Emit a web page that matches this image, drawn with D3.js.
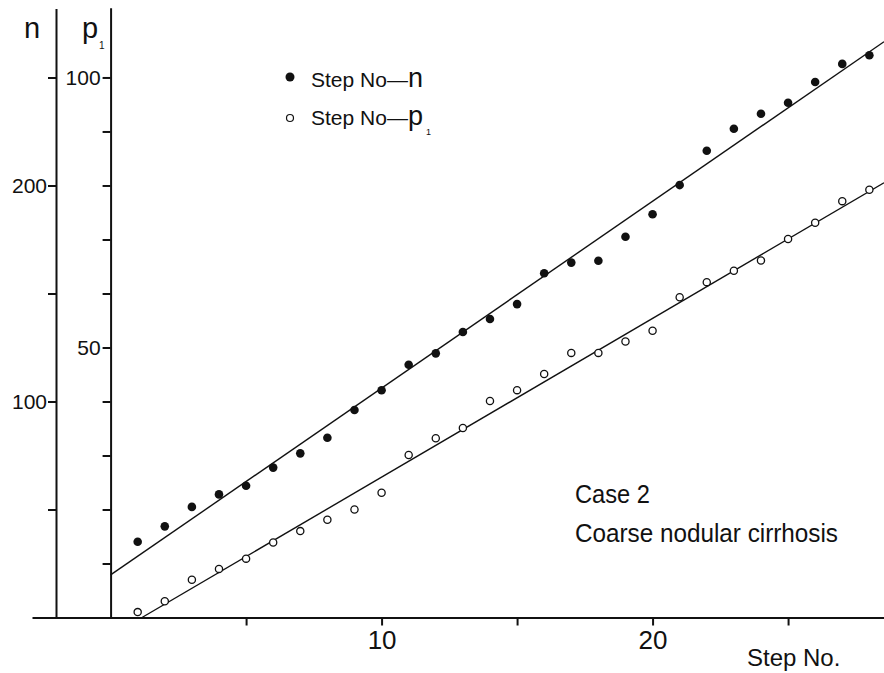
<!DOCTYPE html>
<html>
<head>
<meta charset="utf-8">
<script src="https://cdn.jsdelivr.net/npm/d3@7"></script>
<style>
  body { margin: 0; background: #fff; }
  svg text { font-family: "Liberation Sans", Arial, sans-serif; fill: #111; }
</style>
</head>
<body>
<div id="container"></div>
<script>
/* DATA */
const steps = [1, 2, 3, 4, 5, 6, 7, 8, 9, 10, 11, 12, 13, 14, 15, 16, 17, 18, 19, 20, 21, 22, 23, 24, 25, 26, 27, 28];
// Step No -- n (filled dots)
const nValues = [35.1, 42.2, 51.2, 57.0, 61.0, 69.4, 76.0, 83.2, 96.1, 105.2, 117.0, 122.3, 132.2, 138.2,
  145.1, 159.4, 164.3, 165.2, 176.3, 186.7, 200.2, 216.1, 226.3, 233.2, 238.3, 247.9, 256.3, 260.3];
// Step No -- p1 (open circles)
const pValues = [1.0, 3.0, 7.0, 9.0, 10.9, 13.9, 16.0, 18.1, 20.0, 23.1, 30.1, 33.2, 35.1, 40.1,
  42.1, 45.1, 49.0, 49.0, 51.1, 53.1, 59.3, 62.1, 64.2, 66.1, 70.1, 73.1, 77.1, 79.2];
// fitted lines: [intercept, slope]
const nFit = [19.7, 8.65];
const pFit = [-3.41, 2.94];

const xTicks = [5, 10, 15, 20, 25];
const xTickLabels = [10, 20];
const nTicks = [50, 100, 150, 200, 250];
const nTickLabels = [100, 200];
const pTicks = [10, 20, 30, 40, 50, 60, 70, 80, 90, 100];
const pTickLabels = [50, 100];

/* CONSTANTS */
const width = 884,
  height = 673;

/* SCALES */
const xScale = d3.scaleLinear().domain([-2.9, 28.54]).range([32, 884]);
const nScale = d3.scaleLinear().domain([0, 282]).range([617.5, 8.4]);
const pScale = d3.scaleLinear().domain([0, 112.9]).range([617.5, 7.8]);

const svg = d3.select("#container")
  .append("svg")
  .attr("width", width)
  .attr("height", height);

// Axes ----------------
const xAxis = d3.axisBottom(xScale)
  .tickValues(xTicks)
  .tickSize(8)
  .tickSizeOuter(0)
  .tickPadding(5)
  .tickFormat(d => xTickLabels.includes(d) ? d : "");

const xg = svg.append("g")
  .attr("transform", `translate(0,${nScale(0)})`)
  .call(xAxis);
xg.attr("font-size", 26).attr("font-family", null);

const nAxis = d3.axisLeft(nScale)
  .tickValues(nTicks)
  .tickSize(8)
  .tickSizeOuter(0)
  .tickPadding(1)
  .tickFormat(d => nTickLabels.includes(d) ? d : "");

const ng = svg.append("g")
  .attr("transform", "translate(56,0)")
  .call(nAxis);
ng.attr("font-size", 21).attr("font-family", null);

const pAxis = d3.axisLeft(pScale)
  .tickValues(pTicks)
  .tickSize(8)
  .tickSizeOuter(0)
  .tickPadding(2)
  .tickFormat(d => pTickLabels.includes(d) ? d : "");

const pg = svg.append("g")
  .attr("transform", `translate(${xScale(0)},0)`)
  .call(pAxis);
pg.attr("font-size", 21).attr("font-family", null);

svg.selectAll(".domain, .tick line")
  .attr("stroke", "#111")
  .attr("stroke-width", 2);
svg.selectAll(".tick text").attr("fill", "#111");

// Axis titles
svg.append("text")
  .attr("x", 24)
  .attr("y", 38)
  .attr("font-size", 29)
  .text("n");

svg.append("text")
  .attr("x", 82)
  .attr("y", 38)
  .attr("font-size", 29)
  .text("p");
svg.append("text")
  .attr("x", 99)
  .attr("y", 49)
  .attr("font-size", 10)
  .text("1");

svg.append("text")
  .attr("x", 747)
  .attr("y", 666)
  .attr("font-size", 24)
  .text("Step No.");

// Fitted lines ----------------
const line = d3.line()
  .x(d => xScale(d[0]))
  .y(d => d[1]);

const xEnd = xScale.domain()[1];
const nLine = [[0, nScale(nFit[0])], [xEnd, nScale(nFit[0] + nFit[1] * xEnd)]];
const pStart = -pFit[0] / pFit[1];
const pLine = [[pStart, pScale(0)], [xEnd, pScale(pFit[0] + pFit[1] * xEnd)]];

svg.append("path")
  .attr("d", line(nLine))
  .attr("fill", "none")
  .attr("stroke", "#111")
  .attr("stroke-width", 1.4);

svg.append("path")
  .attr("d", line(pLine))
  .attr("fill", "none")
  .attr("stroke", "#111")
  .attr("stroke-width", 1.4);

// Points ----------------
svg.selectAll(".dot-n")
  .data(steps)
  .join("circle")
  .attr("class", "dot-n")
  .attr("cx", d => xScale(d))
  .attr("cy", (d, i) => nScale(nValues[i]))
  .attr("r", 4.3)
  .attr("fill", "#111");

svg.selectAll(".dot-p")
  .data(steps)
  .join("circle")
  .attr("class", "dot-p")
  .attr("cx", d => xScale(d))
  .attr("cy", (d, i) => pScale(pValues[i]))
  .attr("r", 3.6)
  .attr("fill", "#fff")
  .attr("stroke", "#111")
  .attr("stroke-width", 1.3);

// Legend ----------------
svg.append("circle")
  .attr("cx", 290).attr("cy", 77).attr("r", 4.5)
  .attr("fill", "#111");
svg.append("circle")
  .attr("cx", 290).attr("cy", 118).attr("r", 3.5)
  .attr("fill", "#fff").attr("stroke", "#111").attr("stroke-width", 1.2);

const leg1 = svg.append("text")
  .attr("x", 311).attr("y", 87).attr("font-size", 21);
leg1.append("tspan").text("Step No—");
leg1.append("tspan").attr("font-size", 27).text("n");

svg.append("text")
  .attr("x", 311).attr("y", 125).attr("font-size", 21)
  .append("tspan").text("Step No—")
  .append("tspan").attr("font-size", 27).text("p");
svg.append("text")
  .attr("x", 426).attr("y", 135).attr("font-size", 9)
  .text("1");

// Case annotation ----------------
svg.append("text")
  .attr("x", 575).attr("y", 503).attr("font-size", 25)
  .attr("textLength", 75).attr("lengthAdjust", "spacingAndGlyphs")
  .text("Case 2");

svg.append("text")
  .attr("x", 575).attr("y", 542).attr("font-size", 25)
  .attr("textLength", 263).attr("lengthAdjust", "spacingAndGlyphs")
  .text("Coarse nodular  cirrhosis");
</script>
</body>
</html>
